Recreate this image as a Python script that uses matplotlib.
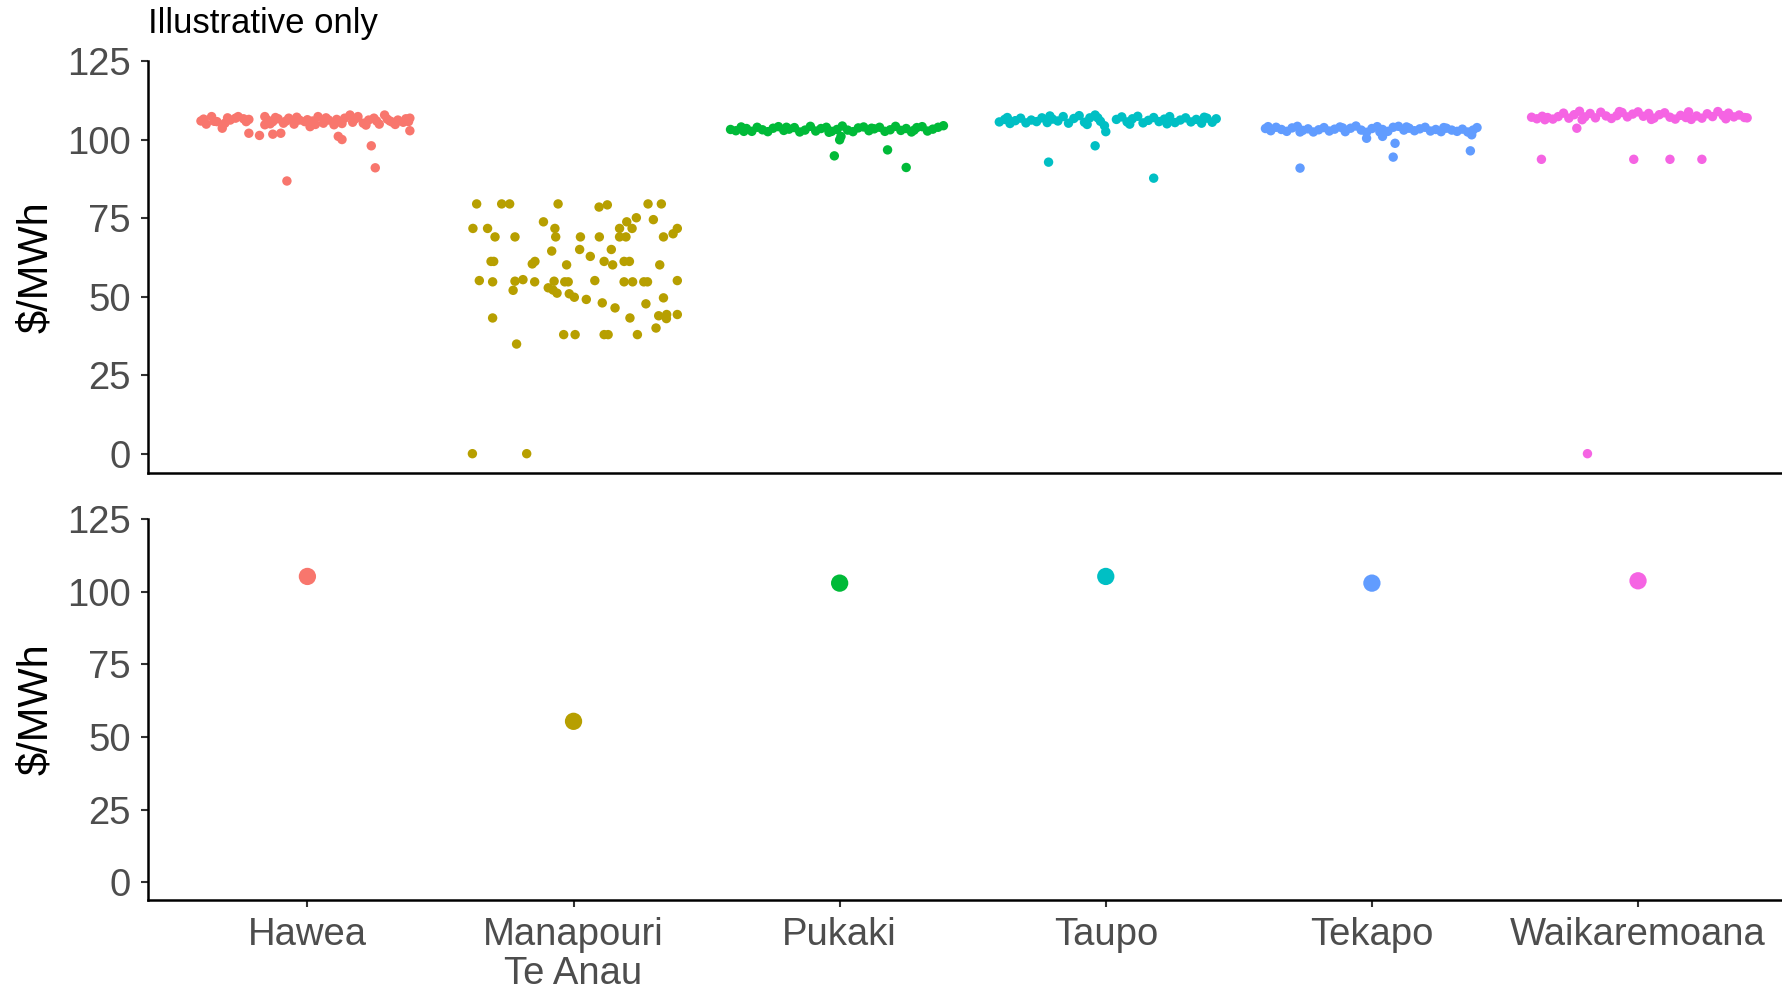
import matplotlib
matplotlib.use("Agg")
import matplotlib.pyplot as plt

plt.rcParams["font.family"] = ["Liberation Sans", "DejaVu Sans"]

lakes = ["Hawea", "Manapouri\nTe Anau", "Pukaki", "Taupo", "Tekapo", "Waikaremoana"]
colors = ["#F8766D", "#B79F00", "#00BA38", "#00BFC4", "#619CFF", "#F564E3"]

# jittered prices, (horizontal jitter, $/MWh)
hawea_pts = [
    (-0.40, 105.9), (-0.38, 104.9), (-0.36, 107.3), (-0.34, 105.7), (-0.32, 103.6),
    (-0.31, 105.2), (-0.29, 106.2), (-0.27, 106.8), (-0.26, 107.3), (-0.24, 106.6),
    (-0.23, 105.7), (-0.16, 107.3), (-0.16, 104.7), (-0.15, 106.2), (-0.13, 105.7),
    (-0.11, 106.6), (-0.09, 105.2), (-0.07, 106.8), (-0.05, 104.9), (-0.03, 106.2),
    (-0.01, 105.7), (0.01, 104.1), (0.02, 105.9), (0.04, 107.3), (0.06, 105.2),
    (0.08, 106.2), (0.10, 104.7), (0.12, 105.7), (0.14, 106.8), (0.16, 107.8),
    (0.17, 105.5), (0.19, 107.3), (0.21, 105.2), (0.23, 106.2), (0.25, 106.8),
    (0.27, 104.9), (0.29, 107.8), (0.31, 105.9), (0.32, 105.5), (0.34, 106.2),
    (0.37, 106.6), (0.38, 105.7), (-0.39, 106.5), (-0.35, 105.8), (-0.30, 106.9),
    (-0.22, 106.4), (-0.14, 105.0), (-0.12, 107.0), (-0.08, 105.9), (-0.04, 107.1),
    (0.00, 106.3), (0.03, 104.8), (0.07, 106.9), (0.11, 106.4), (0.13, 105.1),
    (0.18, 106.6), (0.22, 104.6), (0.26, 105.9), (0.30, 106.5), (0.33, 104.8),
    (0.36, 105.5), (0.385, 106.8),
    (-0.22, 102.0), (-0.18, 101.3), (-0.13, 101.7), (-0.10, 102.0), (0.116, 101.0),
    (0.13, 100.0), (0.24, 98.0), (0.385, 102.8), (0.255, 91.0), (-0.077, 86.8),
]
manapouri_pts = [
    (-0.364, 79.5), (-0.27, 79.5), (-0.24, 79.5), (-0.058, 79.5), (0.096, 78.5),
    (0.127, 79.2), (0.28, 79.5), (0.33, 79.5),
    (-0.113, 73.8), (0.20, 73.8), (0.236, 75.1), (0.30, 74.5),
    (-0.378, 71.7), (-0.323, 71.7), (-0.07, 71.7), (0.173, 71.7), (0.22, 71.7),
    (0.39, 71.7), (0.374, 70.0),
    (-0.295, 69.0), (-0.22, 69.0), (-0.067, 69.0), (0.026, 69.0), (0.097, 69.0),
    (0.173, 69.0), (0.197, 69.0), (0.338, 69.0),
    (-0.082, 64.5), (0.023, 65.0), (0.142, 65.0), (0.063, 62.8),
    (-0.31, 61.2), (-0.30, 61.2), (-0.155, 60.4), (-0.145, 61.2), (-0.026, 60.1),
    (0.115, 61.2), (0.147, 60.1), (0.19, 61.2), (0.21, 61.2), (0.324, 60.1),
    (-0.354, 55.1), (-0.304, 54.7), (-0.22, 54.9), (-0.19, 55.4), (-0.146, 54.7),
    (-0.073, 54.9), (-0.033, 54.7), (-0.02, 54.7), (0.08, 55.1), (0.19, 54.7),
    (0.222, 54.7), (0.264, 54.7), (0.278, 54.7), (0.39, 55.1),
    (-0.227, 52.0), (-0.095, 52.8), (-0.077, 52.1), (-0.062, 51.1), (-0.016, 50.9),
    (0.003, 49.8), (0.048, 49.1), (0.108, 48.0), (0.156, 46.4), (0.272, 47.7),
    (0.338, 49.6),
    (-0.304, 43.2), (0.212, 43.2), (0.32, 43.9), (0.35, 44.3), (0.349, 43.0),
    (0.39, 44.3), (0.31, 40.0),
    (-0.037, 37.9), (0.006, 37.9), (0.115, 37.9), (0.13, 37.9), (0.24, 37.9),
    (-0.214, 34.9), (-0.38, 0.0), (-0.176, 0.0),
]
pukaki_pts = [
    (-0.41, 103.2), (-0.39, 102.8), (-0.37, 104.0), (-0.35, 103.5), (-0.33, 102.6),
    (-0.31, 103.9), (-0.29, 103.1), (-0.27, 102.5), (-0.25, 103.6), (-0.23, 104.1),
    (-0.21, 102.9), (-0.19, 103.3), (-0.17, 103.8), (-0.15, 102.4), (-0.13, 103.0),
    (-0.11, 104.2), (-0.09, 102.7), (-0.07, 103.5), (-0.05, 103.9), (-0.03, 102.6),
    (-0.01, 103.2), (0.01, 104.3), (0.03, 103.0), (0.05, 102.5), (0.07, 103.7),
    (0.09, 104.0), (0.11, 102.8), (0.13, 103.4), (0.15, 103.9), (0.17, 102.6),
    (0.19, 103.1), (0.21, 104.2), (0.23, 102.9), (0.25, 103.5), (0.27, 102.4),
    (0.29, 103.8), (0.31, 104.1), (0.33, 102.7), (0.35, 103.3), (0.37, 103.9),
    (0.39, 104.4), (-0.36, 102.6), (-0.20, 103.9), (-0.04, 102.3), (0.12, 103.6),
    (0.28, 103.0),
    (0.00, 99.9), (0.005, 101.0), (-0.02, 94.8), (0.18, 96.7), (0.25, 91.1),
]
taupo_pts = [
    (-0.40, 105.6), (-0.38, 106.4), (-0.36, 105.1), (-0.34, 106.0), (-0.32, 106.8),
    (-0.30, 105.3), (-0.28, 106.2), (-0.26, 105.7), (-0.24, 106.9), (-0.22, 105.4),
    (-0.20, 106.5), (-0.18, 105.9), (-0.16, 107.3), (-0.14, 105.2), (-0.12, 106.7),
    (-0.10, 107.6), (-0.08, 105.5), (-0.06, 106.9), (-0.04, 107.8), (-0.02, 105.8),
    (-0.005, 104.4), (0.04, 106.4), (0.06, 107.2), (0.08, 105.6), (0.10, 106.6),
    (0.12, 107.4), (0.14, 105.3), (0.16, 106.1), (0.18, 107.0), (0.20, 105.7),
    (0.22, 106.5), (0.24, 107.3), (0.26, 105.4), (0.28, 106.2), (0.30, 106.9),
    (0.32, 105.6), (0.34, 106.4), (0.36, 105.2), (0.38, 106.8), (0.40, 105.5),
    (0.415, 106.6), (-0.37, 107.0), (-0.21, 107.5), (-0.07, 104.8), (-0.03, 106.9),
    (0.09, 104.9), (0.23, 105.0), (0.37, 107.1),
    (0.00, 102.5), (-0.04, 98.0), (-0.215, 92.8), (0.18, 87.7),
]
tekapo_pts = [
    (-0.40, 103.5), (-0.38, 102.8), (-0.36, 103.9), (-0.34, 103.2), (-0.32, 102.6),
    (-0.30, 103.7), (-0.28, 104.2), (-0.26, 102.9), (-0.24, 103.4), (-0.22, 102.4),
    (-0.20, 103.1), (-0.18, 103.8), (-0.16, 102.7), (-0.14, 103.3), (-0.12, 104.0),
    (-0.10, 102.5), (-0.08, 103.6), (-0.06, 104.3), (-0.04, 103.0), (-0.02, 102.3),
    (0.00, 103.5), (0.02, 104.1), (0.04, 103.2), (0.06, 102.6), (0.08, 103.9),
    (0.10, 104.2), (0.12, 103.0), (0.14, 103.6), (0.16, 102.8), (0.18, 103.4),
    (0.20, 103.9), (0.22, 102.7), (0.24, 103.2), (0.26, 102.5), (0.28, 103.6),
    (0.30, 103.0), (0.32, 102.6), (0.34, 103.3), (0.36, 102.4), (0.38, 103.0),
    (-0.39, 104.1), (-0.27, 102.4), (-0.11, 103.7), (0.03, 102.4), (0.13, 104.0),
    (0.27, 103.8), (0.395, 103.8), (0.375, 101.5),
    (-0.02, 100.4), (0.04, 101.0), (0.087, 98.8), (0.08, 94.4), (0.37, 96.4),
    (-0.27, 90.9),
]
waikaremoana_pts = [
    (-0.40, 107.1), (-0.38, 106.6), (-0.36, 107.4), (-0.34, 107.0), (-0.32, 106.5),
    (-0.30, 107.3), (-0.28, 108.4), (-0.26, 106.8), (-0.24, 107.9), (-0.22, 109.0),
    (-0.20, 107.2), (-0.18, 108.3), (-0.16, 106.9), (-0.14, 108.7), (-0.12, 107.5),
    (-0.10, 106.7), (-0.08, 107.6), (-0.06, 108.6), (-0.04, 107.2), (-0.02, 108.1),
    (0.00, 108.8), (0.02, 107.4), (0.04, 108.3), (0.06, 106.8), (0.08, 107.9),
    (0.10, 108.5), (0.12, 107.1), (0.14, 106.5), (0.16, 107.7), (0.18, 107.0),
    (0.20, 106.4), (0.22, 107.5), (0.24, 106.8), (0.26, 108.2), (0.28, 107.3),
    (0.30, 108.9), (0.32, 107.6), (0.34, 108.4), (0.36, 107.2), (0.38, 107.8),
    (0.40, 107.0), (0.41, 106.9), (-0.35, 106.3), (-0.21, 106.3), (-0.07, 108.9),
    (0.05, 106.4), (0.19, 108.8), (0.33, 106.6),
    (-0.23, 103.6), (-0.363, 93.7), (-0.016, 93.7), (0.12, 93.7), (0.24, 93.7),
    (-0.19, 0.0),
]
jitter_sets = [hawea_pts, manapouri_pts, pukaki_pts, taupo_pts, tekapo_pts, waikaremoana_pts]

# mean price per lake, bottom panel
mean_price = [105.3, 55.4, 103.0, 105.3, 103.0, 103.8]

y_ticks = [0, 25, 50, 75, 100, 125]

fig = plt.figure(figsize=(17.82, 9.9), dpi=100)
ax_top = fig.add_axes([0.0829, 0.5219, 1.0 - 0.0829, 0.9384 - 0.5219])
ax_bot = fig.add_axes([0.0829, 0.0906, 1.0 - 0.0829, 0.4755 - 0.0906])

for i, (pts, col) in enumerate(zip(jitter_sets, colors)):
    xs = [i + 1 + dx for dx, _ in pts]
    ys = [v for _, v in pts]
    ax_top.scatter(xs, ys, s=46, color=col, edgecolors="none", zorder=3)

ax_bot.scatter(range(1, len(lakes) + 1), mean_price, s=155, c=colors,
               edgecolors="none", zorder=3)

for ax in (ax_top, ax_bot):
    ax.set_xlim(0.4, 6.541)
    ax.set_ylim(-6.25, 125)
    ax.set_yticks(y_ticks)
    ax.set_yticklabels([str(t) for t in y_ticks])
    ax.set_xticks(range(1, len(lakes) + 1))
    for side in ("top", "right"):
        ax.spines[side].set_visible(False)
    for side in ("left", "bottom"):
        ax.spines[side].set_linewidth(1.8)
        ax.spines[side].set_color("black")
    ax.spines["left"].set_bounds(-6.25, 125)
    ax.tick_params(axis="both", length=5, width=1.5, color="#333333",
                   labelsize=27.5, labelcolor="#4D4D4D", pad=7)

ax_top.set_xticklabels([])
ax_top.tick_params(axis="x", length=0)
ax_bot.set_xticklabels(lakes, linespacing=1.12)
ax_bot.tick_params(axis="x", pad=7)

fig.text(0.020, 0.730, "\\$/MWh", rotation=90, ha="center", va="center",
         fontsize=30, color="black")
fig.text(0.020, 0.2835, "\\$/MWh", rotation=90, ha="center", va="center",
         fontsize=30, color="black")
fig.text(0.083, 0.9667, "Illustrative only", ha="left", va="baseline",
         fontsize=25, color="black")

fig.savefig("out.png", dpi=100)
